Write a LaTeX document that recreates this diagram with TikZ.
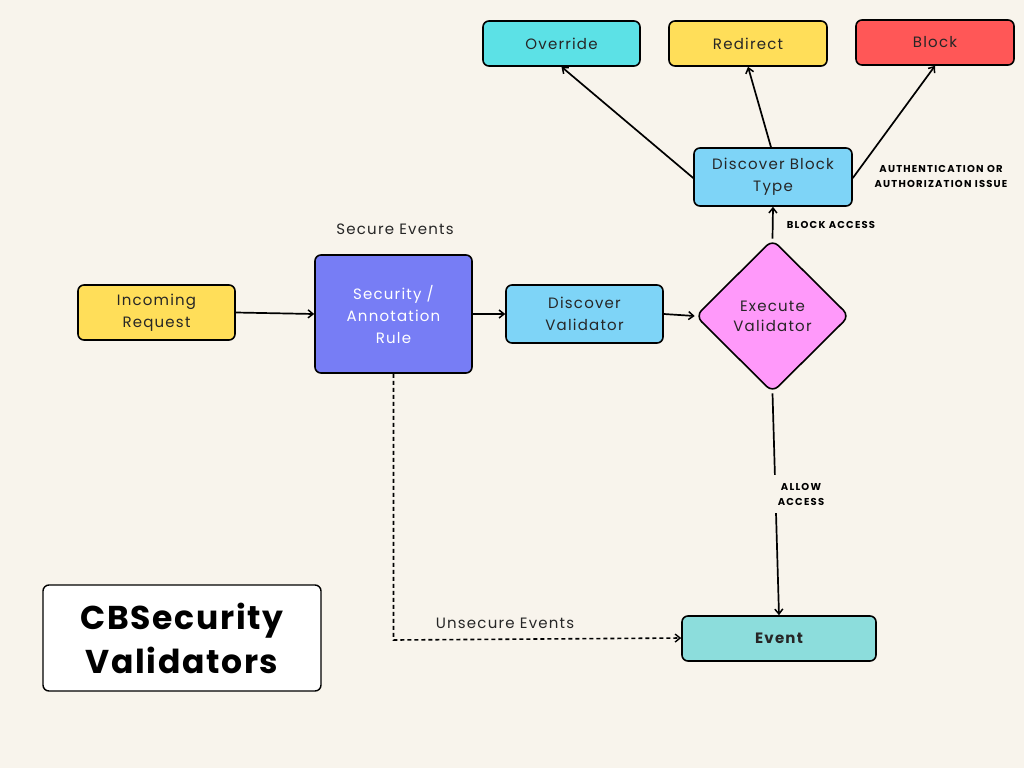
\documentclass[tikz,border=0pt]{standalone}
\usepackage{fontspec}
\setmainfont{Poppins}[LetterSpace=8]
\newfontfamily\labfont{Poppins}[LetterSpace=12]
\newfontfamily\ttlfont{Poppins}[LetterSpace=5]
\usetikzlibrary{shapes.geometric,arrows.meta}
\definecolor{bgc}{HTML}{F8F4EC}
\definecolor{cyanc}{HTML}{5CE1E6}
\definecolor{yelc}{HTML}{FFDE59}
\definecolor{redc}{HTML}{FF5757}
\definecolor{bluec}{HTML}{7ED4F7}
\definecolor{purc}{HTML}{777DF5}
\definecolor{pinkc}{HTML}{FF99FA}
\definecolor{tealc}{HTML}{8CDDDC}
\tikzset{
  box/.style={draw=black, line width=1.6pt, rounded corners=6pt, inner sep=0pt, align=center, font=\fontsize{15}{22}\selectfont, text=black!85},
  lab/.style={font=\labfont\fontsize{10}{15}\selectfont\bfseries, align=center, text=black},
  arr/.style={line width=1.7pt, -{Straight Barb[length=5pt,width=8pt,line width=1.5pt]}},
}
\begin{document}
\begin{tikzpicture}[x=1pt,y=-1pt]
\fill[bgc] (0,0) rectangle (1024,768);
\useasboundingbox (0,0) rectangle (1024,768);

\node[box, fill=cyanc, minimum width=157pt, minimum height=45pt] (ovr) at (561.5,43.5) {Override};
\node[box, fill=yelc, minimum width=158pt, minimum height=45pt] (red) at (748,43.5) {Redirect};
\node[box, fill=redc, minimum width=158pt, minimum height=45pt] (blk) at (935,42.5) {Block};
\node[box, fill=bluec, minimum width=158pt, minimum height=58pt] (dbt) at (773,177) {Discover Block\\Type};
\node[box, fill=yelc, minimum width=157pt, minimum height=55pt] (inc) at (156.5,312.5) {Incoming\\Request};
\node[box, fill=purc, text=white, minimum width=157pt, minimum height=118pt] (sec) at (393.5,314) {Security /\\Annotation\\Rule};
\node[box, fill=bluec, minimum width=157pt, minimum height=58pt] (dv) at (584.5,314) {Discover\\Validator};
\node[draw=black, line width=1.6pt, fill=pinkc, diamond, rounded corners=8pt, minimum width=154pt, minimum height=153pt, inner sep=0pt, align=center, font=\fontsize{15}{20}\selectfont, text=black!85] (exe) at (772.5,316) {Execute\\Validator};
\node[box, fill=tealc, minimum width=194pt, minimum height=45pt, font=\fontsize{15}{19}\selectfont\bfseries] (evt) at (779,638.5) {Event};
\node[box, fill=white, line width=1.4pt, minimum width=278pt, minimum height=106pt, font=\ttlfont\fontsize{33}{44}\selectfont\bfseries, text=black] (ttl) at (182,638) {CBSecurity\\Validators};

\node[font=\fontsize{15}{19}\selectfont, text=black!85] (se) at (395,229) {Secure Events};
\node[font=\fontsize{15}{19}\selectfont, text=black!85] (ue) at (505,623) {Unsecure Events};
\node[lab] (ba) at (831,225) {BLOCK ACCESS};
\node[lab] (ai) at (941,176) {AUTHENTICATION OR\\AUTHORIZATION ISSUE};

\draw[arr] (inc.east) -- (sec.west |- 0,314);
\draw[arr] (sec.east) -- (dv.west);
\draw[arr] (dv.east) -- (exe.west);
\draw[arr] (exe.north) -- (dbt.south);
\draw[arr] (dbt.west |- 0,178) -- (ovr.south);
\draw[arr] ([xshift=-2pt]dbt.north) -- (red.south);
\draw[arr] (dbt.east |- 0,178) -- (blk.south);
\draw[arr] (exe.south) -- (evt.north);
\node[lab, fill=bgc, inner xsep=7pt, inner ysep=8pt] (aa) at (801,494) {ALLOW\\ACCESS};
\coordinate (corner) at (sec.south |- 0,640);
\draw[line width=1.6pt, dash pattern=on 4pt off 3pt, -{Straight Barb[length=5pt,width=8pt,line width=1.4pt]}] (sec.south) -- (corner) -- (evt.west |- 0,638);
\end{tikzpicture}
\end{document}
